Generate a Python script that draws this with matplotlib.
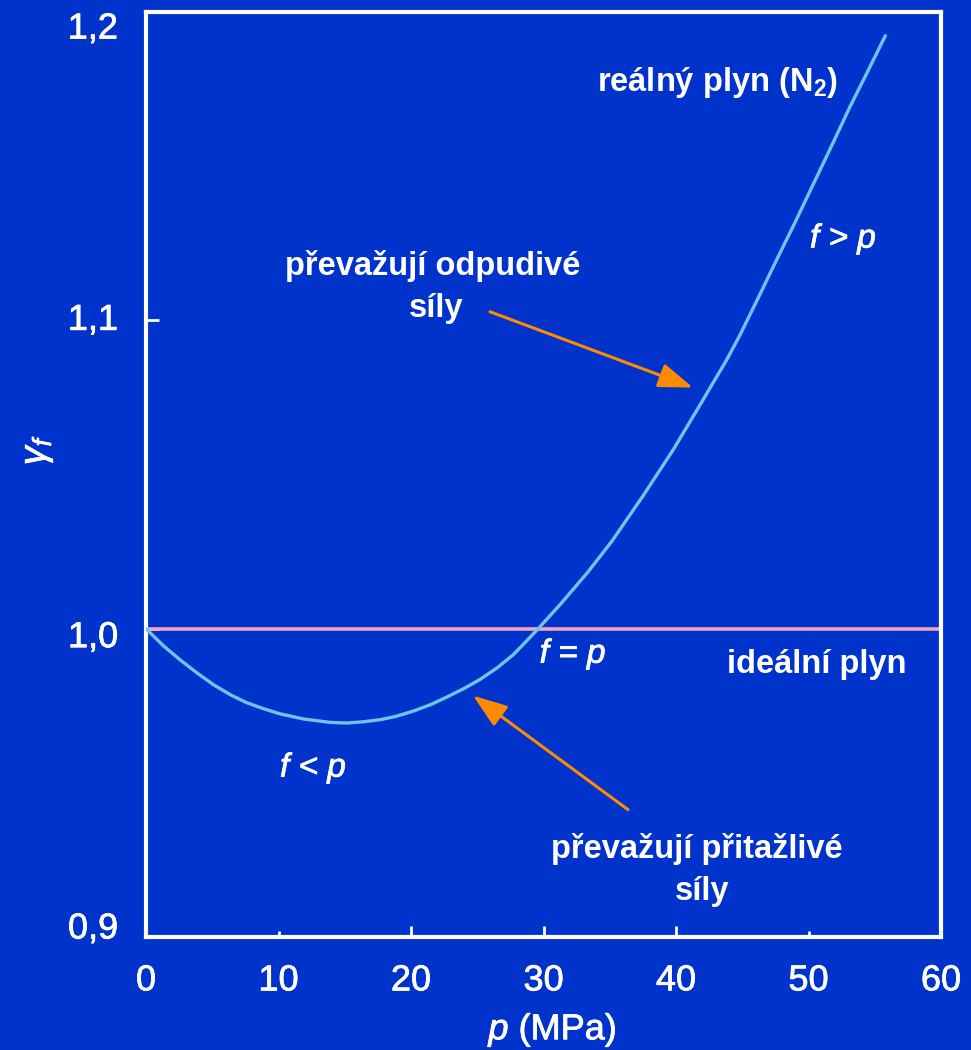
import matplotlib
matplotlib.use("Agg")
import matplotlib.pyplot as plt
import matplotlib.transforms as mtransforms
import matplotlib.patheffects as pe

plt.rcParams['font.family'] = ['Liberation Sans', 'DejaVu Sans']
plt.rcParams['mathtext.fontset'] = 'custom'
plt.rcParams['mathtext.rm'] = 'Liberation Sans'
plt.rcParams['mathtext.it'] = 'Liberation Sans:italic'
plt.rcParams['mathtext.bf'] = 'Liberation Sans:bold'

# data
p_real = [0.0, 1.3, 2.6, 3.8, 5.1, 6.4, 7.6, 8.9, 10.1, 11.9, 13.9, 15.2,
          16.4, 17.7, 18.9, 20.2, 21.5, 22.7, 24.0, 25.2, 26.5, 27.7, 28.5,
          29.6, 31.25, 33.3, 35.15, 37.5, 39.8, 41.9, 43.8, 44.8, 46.4, 47.6,
          48.9, 50.4, 51.9, 53.1, 54.5, 55.8]
gamma_real = [1.0000, 0.9945, 0.9898, 0.9858, 0.9818, 0.9785, 0.9760, 0.9740,
              0.9724, 0.9707, 0.9696, 0.9694, 0.9698, 0.9705, 0.9716, 0.9733,
              0.9754, 0.9778, 0.9806, 0.9835, 0.9873, 0.9915, 0.9950, 1.0000,
              1.0078, 1.0181, 1.0283, 1.0430, 1.0581, 1.0732, 1.0870, 1.0950,
              1.1090, 1.1197, 1.1310, 1.1445, 1.1580, 1.1690, 1.1810, 1.1923]
gamma_ideal = 1.0
x_ticks = [0, 10, 20, 30, 40, 50, 60]
x_ticklabels = ['0', '10', '20', '30', '40', '50', '60']
y_ticks = [0.9, 1.0, 1.1, 1.2]
y_ticklabels = ['0,9', '1,0', '1,1', '1,2']

BG = '#0033CC'
CURVE = '#6EC4EA'
PINK = '#F4A4C0'
ORANGE = '#FF8A00'
WHITE = 'white'

thick = [pe.withStroke(linewidth=0.55, foreground=WHITE)]

fig = plt.figure(figsize=(9.71, 10.5), dpi=100)
fig.patch.set_facecolor(BG)
ax = fig.add_axes([146/971, 113/1050, 795/971, 925/1050])
ax.set_facecolor(BG)

ax.plot(p_real, gamma_real, color=CURVE, lw=2.4, solid_capstyle='round',
        solid_joinstyle='round', zorder=3)
ax.axhline(gamma_ideal, color=PINK, lw=2.6, zorder=2)

ax.set_xlim(0, 60)
ax.set_ylim(0.9, 1.2)

for s in ax.spines.values():
    s.set_color(WHITE)
    s.set_linewidth(3)

ax.set_xticks(x_ticks)
ax.set_xticklabels(x_ticklabels)
ax.set_yticks(y_ticks)
ax.set_yticklabels(y_ticklabels)
ax.tick_params(axis='x', direction='in', length=8, width=2, color=WHITE,
               labelcolor=WHITE, labelsize=26, pad=19)
ax.tick_params(axis='y', direction='in', length=9, width=2, color=WHITE,
               labelcolor=WHITE, labelsize=26, pad=20)
for val, t in zip(x_ticks, ax.xaxis.get_major_ticks()):
    if val in (10, 50):
        t.tick1line.set_markersize(4.5)
for lab in ax.get_xticklabels():
    lab.set_path_effects(thick)

# vertical offsets (pixels, positive = down) of the y tick labels
y_label_shift = {0.9: -12, 1.0: 5, 1.1: -4, 1.2: 13}
for val, lab in zip(y_ticks, ax.get_yticklabels()):
    off = mtransforms.ScaledTranslation(0, -y_label_shift[val] / 100, fig.dpi_scale_trans)
    lab.set_transform(lab.get_transform() + off)
    lab.set_path_effects(thick)

ax.set_xlabel(r'$\mathit{p}$ (MPa)', color=WHITE, fontsize=26, va='center',
              path_effects=thick)
ax.xaxis.set_label_coords(0.512, -0.1005)
ax.set_ylabel(r'$\mathit{\gamma}_\mathit{f}$', color=WHITE, fontsize=27,
              va='center', ha='center', path_effects=thick)
ax.yaxis.set_label_coords(-0.137, 0.5265)

txt = dict(color=WHITE, fontsize=23.5, fontweight='bold', ha='center', va='baseline')
ital = dict(color=WHITE, fontsize=24, fontstyle='italic', ha='center', va='baseline',
            path_effects=thick)

ax.text(43.1, 1.1745, r'reálný plyn (N$_\mathbf{2}$)', **txt)
ax.text(52.6, 1.1236, 'f > p', **ital)
ax.text(21.6, 1.1148, 'převažují odpudivé', **txt)
ax.text(21.9, 1.1012, 'síly', **txt)
ax.text(32.2, 0.98897, 'f = p', **ital)
ax.text(12.6, 0.952, 'f < p', **ital)
ax.text(50.6, 0.9857, 'ideální plyn', **txt)
ax.text(41.6, 0.9257, 'převažují přitažlivé', **txt)
ax.text(42.0, 0.9121, 'síly', **txt)

arrow = dict(arrowstyle='-|>,head_length=2.1,head_width=0.75', color=ORANGE,
             lw=2.2, shrinkA=0, shrinkB=0)
ax.annotate('', xy=(41.28, 1.0782), xytext=(25.96, 1.1028), arrowprops=arrow)
ax.annotate('', xy=(24.68, 0.9783), xytext=(36.38, 0.9413), arrowprops=arrow)

fig.savefig('out.png', dpi=100, facecolor=BG)
